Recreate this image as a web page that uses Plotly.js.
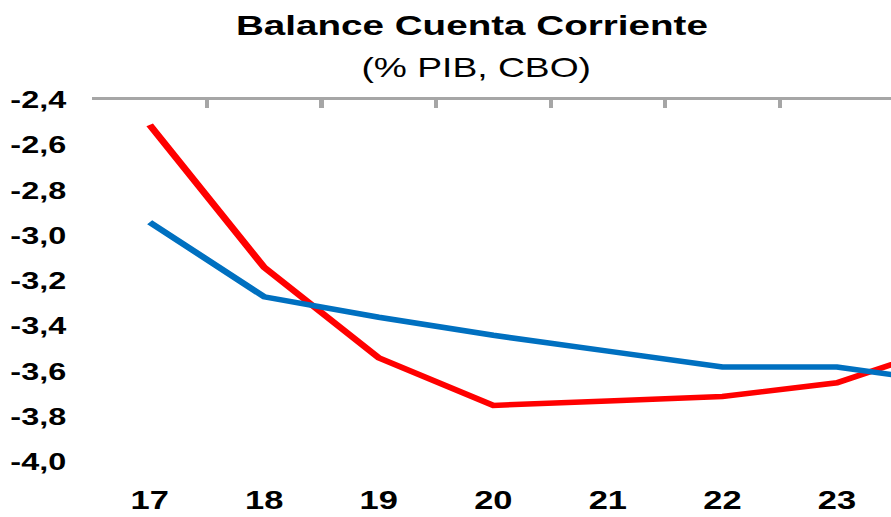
<!DOCTYPE html>
<html>
<head>
<meta charset="utf-8">
<script src="https://cdn.plot.ly/plotly-3.0.1.min.js"></script>
<style>
  html, body { margin: 0; padding: 0; overflow: hidden; background: #fff; }
  #chart { width: 646px; height: 517px; transform: scaleX(1.37926); transform-origin: 0 0; }
</style>
</head>
<body>
<div id="chart"></div>
<script>
// Data (years 2017-2024, last one partly off the visible area)
const years = [17, 18, 19, 20, 21, 22, 23, 24];
const yearLabels = ["17", "18", "19", "20", "21", "22", "23", "24"];
const serieRoja = [-2.51, -3.14, -3.54, -3.75, -3.73, -3.71, -3.65, -3.48];
const serieAzul = [-2.94, -3.27, -3.36, -3.44, -3.51, -3.58, -3.58, -3.65];
const yTicks = [-4.0, -3.8, -3.6, -3.4, -3.2, -3.0, -2.8, -2.6, -2.4];
const yTickLabels = ["-4,0", "-3,8", "-3,6", "-3,4", "-3,2", "-3,0", "-2,8", "-2,6", "-2,4"];

const FONT = 'Arial, "Liberation Sans", sans-serif';
const shownYears = years.slice(0, 7);
const boundaryTicks = years.map(v => v - 0.5);

const traces = [
  { x: years, y: serieRoja, type: 'scatter', mode: 'lines',
    line: { color: '#FF0000', width: 5.5 }, hoverinfo: 'skip', showlegend: false },
  { x: years, y: serieAzul, type: 'scatter', mode: 'lines',
    line: { color: '#0070C0', width: 5.5 }, hoverinfo: 'skip', showlegend: false },
  { x: [years[0]], y: [yTicks[0]], xaxis: 'x2', yaxis: 'y', type: 'scatter', mode: 'markers',
    marker: { opacity: 0 }, hoverinfo: 'skip', showlegend: false }
];

const xRange = [16.5, 23.472];

const layout = {
  width: 646, height: 517,
  margin: { l: 67, r: 0, t: 100, b: 55, pad: 0 },
  paper_bgcolor: '#ffffff', plot_bgcolor: '#ffffff',
  font: { family: FONT, color: '#000000' },
  showlegend: false,
  xaxis: {
    range: xRange, tickvals: shownYears, ticktext: yearLabels.slice(0, 7),
    showline: false, showgrid: false, zeroline: false, ticks: '',
    tickfont: { family: FONT, size: 25, weight: 'bold', color: '#000' },
    ticklabelstandoff: 21, fixedrange: true
  },
  xaxis2: {
    overlaying: 'x', side: 'top', range: xRange, tickvals: boundaryTicks,
    showticklabels: false, showline: true, linecolor: '#A6A6A6', linewidth: 3,
    ticks: 'inside', ticklen: 8, tickwidth: 3, tickcolor: '#A6A6A6',
    showgrid: false, zeroline: false, fixedrange: true
  },
  yaxis: {
    range: [-4.0, -2.4], tickvals: yTicks, ticktext: yTickLabels,
    showline: false, showgrid: false, zeroline: false, ticks: '',
    tickfont: { family: FONT, size: 23.5, weight: 'bold', color: '#000' },
    ticklabelstandoff: 18, fixedrange: true
  },
  annotations: [
    { text: '<b>Balance Cuenta Corriente</b>', xref: 'paper', yref: 'paper',
      x: 0.4744, y: 1.207, xanchor: 'center', yanchor: 'middle', showarrow: false,
      font: { family: FONT, size: 28, color: '#000' } },
    { text: '(% PIB, CBO)', xref: 'paper', yref: 'paper',
      x: 0.4818, y: 1.088, xanchor: 'center', yanchor: 'middle', showarrow: false,
      font: { family: FONT, size: 27, color: '#000' } }
  ]
};

Plotly.newPlot('chart', traces, layout, { displayModeBar: false, staticPlot: true });
</script>
</body>
</html>
